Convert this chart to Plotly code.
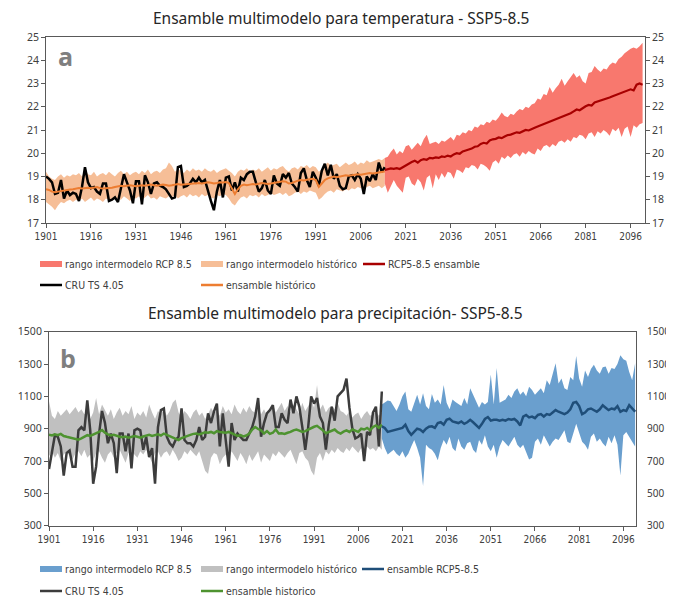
import plotly.graph_objects as go

# ---------------- DATA ----------------
hist_years = list(range(1901, 2015))
fut_years = list(range(2014, 2101))

# Panel a: temperature (°C)
cru_temp = [
    19.0, 18.9, 18.75, 18.25, 18.3, 18.85, 18.05, 18.4, 18.2, 18.3,
    18.25, 17.95, 18.55, 19.4, 18.75, 18.5, 18.55, 18.35, 18.25, 18.7,
    18.7, 17.95, 18.0, 18.1, 17.9, 18.55, 19.1, 18.75, 18.4, 17.85,
    18.8, 18.8, 17.8, 19.05, 18.75, 18.25, 18.7, 18.75, 18.6, 18.55,
    18.45, 18.25, 18.05, 18.1, 19.4, 19.45, 18.55, 18.6, 18.7, 18.9,
    18.75, 18.95, 18.75, 18.85, 18.35, 17.95, 17.55, 18.35, 18.85, 18.1,
    18.95, 19.0, 18.4, 18.75, 18.35, 18.95, 18.85, 19.1, 19.2, 19.2,
    18.75, 18.35, 18.5, 18.85, 18.4, 18.25, 19.05, 18.7, 18.6, 19.1,
    18.95, 19.15, 18.7, 18.55, 18.35, 19.15, 19.35, 18.85, 18.55, 19.2,
    18.95, 18.6, 19.25, 19.55, 19.05, 19.5, 18.9, 19.1, 18.6, 18.45,
    18.5, 19.0, 19.05, 18.85, 19.1, 18.9, 18.25, 19.0, 18.8, 19.1,
    18.85, 19.6, 19.2, 19.4,
]
hist_ens_temp = [
    18.45, 18.42, 18.35, 18.32, 18.35, 18.38, 18.4, 18.42, 18.44, 18.45,
    18.47, 18.5, 18.48, 18.5, 18.52, 18.5, 18.52, 18.55, 18.5, 18.48,
    18.5, 18.5, 18.52, 18.55, 18.58, 18.6, 18.58, 18.6, 18.62, 18.6,
    18.58, 18.6, 18.62, 18.6, 18.63, 18.65, 18.62, 18.6, 18.62, 18.65,
    18.63, 18.6, 18.62, 18.65, 18.68, 18.65, 18.66, 18.68, 18.7, 18.68,
    18.7, 18.72, 18.7, 18.72, 18.75, 18.73, 18.7, 18.72, 18.75, 18.74,
    18.76, 18.72, 18.45, 18.25, 18.45, 18.6, 18.65, 18.62, 18.65, 18.68,
    18.66, 18.7, 18.72, 18.7, 18.68, 18.7, 18.73, 18.75, 18.77, 18.8,
    18.78, 18.7, 18.72, 18.78, 18.82, 18.85, 18.83, 18.86, 18.88, 18.9,
    18.85, 18.55, 18.7, 18.85, 18.92, 18.95, 19.0, 18.97, 19.0, 19.02,
    19.05, 19.03, 19.06, 19.08, 19.1, 19.08, 19.1, 19.12, 19.15, 19.13,
    19.15, 19.18, 19.2, 19.22,
]
hist_hi_temp = [
    19.2, 19.0, 18.9, 18.85, 19.0, 19.1, 18.95, 19.05, 19.0, 19.1,
    19.05, 19.15, 19.0, 19.3, 19.1, 19.05, 19.2, 19.0, 19.1, 19.15,
    19.05, 19.2, 19.1, 19.0, 19.15, 19.25, 19.1, 19.2, 19.05, 19.15,
    19.2, 19.1, 19.25, 19.15, 19.3, 19.1, 19.2, 19.25, 19.15, 19.3,
    19.35, 19.6, 19.45, 19.2, 19.3, 19.25, 19.15, 19.3, 19.2, 19.35,
    19.25, 19.3, 19.2, 19.35, 19.25, 19.2, 19.3, 19.15, 19.25, 19.3,
    19.35, 19.25, 19.15, 19.0, 19.2, 19.3, 19.25, 19.35, 19.2, 19.3,
    19.25, 19.35, 19.2, 19.3, 19.4, 19.25, 19.35, 19.3, 19.4, 19.45,
    19.3, 19.2, 19.35, 19.4, 19.3, 19.45, 19.4, 19.5, 19.35, 19.45,
    19.4, 19.2, 19.3, 19.5, 19.6, 19.45, 19.5, 19.55, 19.4, 19.5,
    19.6, 19.5, 19.55, 19.65, 19.5, 19.6, 19.55, 19.7, 19.6, 19.65,
    19.7, 19.75, 19.7, 19.8,
]
hist_lo_temp = [
    17.9, 17.8, 17.7, 17.55, 17.75, 17.9, 17.85, 17.95, 18.0, 17.9,
    18.0, 17.95, 18.05, 17.9, 18.0, 18.1, 17.95, 18.05, 18.0, 17.9,
    18.05, 18.0, 17.95, 18.1, 18.05, 18.0, 18.15, 18.05, 17.95, 18.1,
    18.05, 18.15, 18.0, 18.1, 18.2, 18.05, 18.1, 18.0, 18.15, 18.1,
    18.05, 18.15, 18.1, 18.2, 18.05, 18.15, 18.2, 18.1, 18.25, 18.15,
    18.2, 18.1, 18.25, 18.15, 18.2, 18.1, 18.05, 18.2, 18.15, 18.25,
    18.2, 18.05, 17.85, 17.75, 17.95, 18.1, 18.15, 18.05, 18.2, 18.15,
    18.2, 18.1, 18.25, 18.15, 18.2, 18.3, 18.2, 18.25, 18.3, 18.2,
    18.3, 18.15, 18.2, 18.3, 18.35, 18.25, 18.35, 18.3, 18.4, 18.35,
    18.3, 18.0, 18.1, 18.25, 18.35, 18.4, 18.3, 18.45, 18.4, 18.35,
    18.45, 18.4, 18.5, 18.45, 18.55, 18.5, 18.45, 18.55, 18.6, 18.5,
    18.55, 18.6, 18.5, 18.6,
]
rcp_ens_temp = [
    19.28,
    19.3, 19.35, 19.33, 19.36, 19.32, 19.4, 19.5, 19.55, 19.62, 19.68,
    19.6, 19.7, 19.75, 19.72, 19.8, 19.78, 19.82, 19.8, 19.86, 19.84,
    19.9, 19.86, 19.95, 20.0, 19.98, 20.08, 20.12, 20.15, 20.2, 20.28,
    20.3, 20.4, 20.45, 20.42, 20.55, 20.6, 20.62, 20.68, 20.65, 20.72,
    20.78, 20.8, 20.85, 20.9, 20.88, 20.95, 21.0, 20.98, 21.05, 21.1,
    21.15, 21.2, 21.28, 21.32, 21.38, 21.42, 21.45, 21.52, 21.58, 21.62,
    21.65, 21.72, 21.8, 21.88, 21.85, 21.95, 22.02, 22.08, 22.05, 22.18,
    22.22, 22.25, 22.3, 22.35, 22.4, 22.45, 22.5, 22.58, 22.62, 22.68,
    22.7, 22.75, 22.7, 22.95, 23.0, 22.95,
]
rcp_hi_temp = [
    19.8,
    19.85, 20.05, 20.2, 19.95, 20.1, 20.0, 20.3, 20.35, 20.15, 20.3,
    20.45, 20.3, 20.6, 20.8, 20.4, 20.45, 20.5, 20.4, 20.55, 20.5,
    20.62, 20.7, 20.55, 20.8, 20.75, 20.9, 20.85, 21.0, 20.95, 21.15,
    21.1, 21.25, 21.2, 21.35, 21.3, 21.45, 21.4, 21.55, 21.75, 21.6,
    21.55, 21.7, 21.65, 21.8, 21.9, 21.85, 22.0, 21.95, 22.1, 22.15,
    22.35, 22.3, 22.55, 22.5, 22.85, 22.6, 22.8, 22.95, 23.2, 22.9,
    23.1, 23.3, 23.45, 23.25, 23.35, 23.1, 23.0, 23.45, 23.5, 23.75,
    23.6, 23.5, 23.65, 23.6, 23.8, 23.9, 23.85, 24.05, 24.15, 24.3,
    24.4, 24.5, 24.55, 24.5, 24.6, 24.75,
]
rcp_lo_temp = [
    18.7,
    18.3, 18.6, 18.85, 18.6, 18.45, 18.3, 18.95, 19.0, 18.7, 18.6,
    18.9, 18.75, 18.4, 18.95, 19.05, 18.5, 19.1, 18.85, 19.15, 18.95,
    19.2, 19.15, 18.9, 19.3, 19.25, 19.15, 19.4, 19.35, 19.5, 19.45,
    19.3, 19.55, 19.5, 19.4, 19.25, 19.6, 19.7, 19.55, 19.85, 19.75,
    19.9, 19.8, 19.95, 20.0, 19.85, 20.05, 19.95, 20.1, 20.0, 19.95,
    20.2, 20.1, 20.3, 20.35, 20.25, 20.4, 20.3, 20.5, 20.55, 20.45,
    20.6, 20.5, 20.7, 20.65, 20.8, 20.75, 20.6, 20.85, 20.9, 20.7,
    20.95, 20.85, 21.0, 20.9, 20.75, 21.05, 20.95, 21.1, 20.7, 21.05,
    21.15, 20.7, 21.2, 21.1, 21.25, 21.3,
]

# Panel b: precipitation (mm)
cru_prec = [
    650, 760, 860, 850, 790, 610, 750, 765, 665, 665,
    890, 910, 890, 1075, 890, 560, 665, 870, 1010, 935,
    810, 870, 810, 625, 870, 870, 760, 870, 655, 890,
    900, 890, 770, 850, 725, 780, 560, 910, 1015, 1025,
    850, 810, 790, 830, 850, 1025, 830, 810, 810, 790,
    830, 910, 830, 850, 995, 935, 1005, 1055, 790, 995,
    830, 665, 935, 830, 870, 850, 830, 830, 870, 910,
    975, 1090, 850, 935, 995, 1015, 1045, 910, 910, 995,
    955, 935, 1080, 995, 1100, 1035, 910, 770, 910, 1100,
    1055, 1090, 975, 935, 770, 925, 1036, 950, 1100, 1118,
    1140, 1210, 1030, 900, 840, 850, 870, 700, 880, 860,
    1000, 1036, 790, 1130,
]
hist_ens_prec = [
    862, 858, 865, 860, 868, 855, 850, 845, 840, 835,
    832, 840, 850, 860, 855, 862, 870, 880, 892, 875,
    865, 858, 862, 855, 850, 848, 852, 845, 850, 855,
    850, 845, 852, 858, 862, 855, 860, 865, 858, 870,
    862, 855, 845, 838, 830, 842, 850, 858, 862, 868,
    870, 865, 872, 878, 875, 880, 872, 885, 880, 878,
    875, 880, 870, 862, 855, 860, 852, 858, 870, 895,
    910, 898, 890, 870, 885, 868, 875, 895, 870, 872,
    868, 875, 880, 890, 895, 888, 880, 885, 895, 905,
    912, 918, 905, 890, 872, 880, 885, 895, 878, 870,
    882, 890, 880, 895, 888, 880, 900, 895, 905, 890,
    910, 920, 905, 925,
]
hist_hi_prec = [
    1070, 980, 960, 1010, 980, 1000, 1020, 990, 1010, 1035,
    1000, 1020, 990, 1010, 960, 1000, 1090, 990, 1050, 1010,
    980, 1020, 960, 1000, 1030, 980, 1010, 990, 1040, 960,
    1000, 980, 1010, 970, 1050, 1000, 960, 1010, 990, 1020,
    980, 1010, 1060, 1080, 1000, 970, 1010, 990, 960, 1000,
    1020, 980, 1000, 960, 990, 1030, 1000, 1010, 980, 1040,
    1000, 1020, 990, 1050, 1010, 990, 1030, 1000, 1040, 1010,
    1000, 1040, 990, 1020, 980, 1010, 1050, 1000, 1030, 1060,
    1010, 1040, 1000, 1050, 1020, 990, 1060, 1010, 1040, 1080,
    1030, 1170, 1020, 1050, 1000, 1030, 1040, 1020, 1060, 1010,
    1000, 980, 1010, 970, 990, 1000, 960, 990, 1010, 980,
    990, 1010, 980, 1000,
]
hist_lo_prec = [
    730, 760, 720, 750, 700, 740, 760, 730, 710, 750,
    760, 730, 770, 720, 740, 700, 750, 760, 720, 690,
    740, 760, 720, 750, 770, 730, 690, 750, 760, 740,
    720, 760, 740, 770, 730, 690, 750, 760, 720, 750,
    760, 730, 770, 740, 700, 720, 760, 740, 770, 750,
    730, 760, 700, 640, 620, 720, 750, 740, 680, 720,
    740, 710, 760, 730, 700, 750, 720, 680, 740, 700,
    730, 760, 690, 740, 720, 700, 750, 730, 760, 740,
    720, 750, 770, 730, 680, 750, 760, 720, 700, 640,
    610, 720, 750, 700, 760, 740, 770, 750, 780, 760,
    750, 780, 760, 790, 770, 750, 780, 760, 790, 770,
    780, 760, 790, 770,
]
rcp_ens_prec = [
    915,
    905, 880, 885, 890, 895, 900, 905, 925, 885, 862,
    880, 900, 895, 880, 900, 912, 915, 905, 935, 940,
    925, 955, 962, 945, 940, 935, 945, 930, 940, 955,
    940, 925, 905, 930, 960, 972, 950, 955, 955, 950,
    955, 950, 960, 955, 960, 945, 920, 975, 985, 970,
    975, 965, 985, 990, 975, 990, 985, 1000, 1015, 1005,
    995, 990, 1000, 1020, 1060, 1065, 1040, 990, 1000, 1020,
    1025, 1015, 1005, 1020, 1045, 1030, 1015, 1025, 1020, 1040,
    1005, 1015, 1010, 1045, 1025, 1005,
]
rcp_hi_prec = [
    1050,
    1060, 1075, 1070, 1040, 1010, 1050, 1100, 1130, 1020, 1005,
    1060, 1110, 1050, 1120, 1040, 1020, 1115, 1060, 1080, 1050,
    1170, 1060, 1020, 1080, 1065, 1050, 1040, 1090, 1050, 1150,
    1110, 1060, 1030, 1065, 1050, 1065, 1235, 1050, 1275, 1060,
    1070, 1080, 1110, 1090, 1130, 1150, 1110, 1130, 1100, 1160,
    1140, 1110, 1130, 1150, 1120, 1200, 1170, 1230, 1305, 1180,
    1210, 1150, 1140, 1220, 1200, 1350, 1210, 1160, 1260, 1220,
    1270, 1295, 1260, 1240, 1280, 1285, 1240, 1275, 1270, 1300,
    1355, 1330, 1320, 1250, 1200, 1305,
]
rcp_lo_prec = [
    840,
    780, 740, 755, 770, 745, 730, 760, 720, 745, 790,
    830, 780, 720, 545, 800, 780, 770, 745, 705, 780,
    830, 800, 850, 780, 760, 840, 790, 770, 810, 820,
    770, 750, 830, 800, 860, 790, 760, 800, 720, 790,
    830, 810, 790, 820, 850, 800, 780, 800, 760, 710,
    720, 820, 840, 800, 860, 830, 790, 820, 840, 830,
    860, 890, 820, 810, 870, 930, 880, 820, 800, 770,
    850, 870, 820, 840, 810, 790, 850, 810, 860, 800,
    610, 860, 880, 850, 820, 790,
]

x_ticks = list(range(1901, 2100, 15))

# ---------------- STYLE ----------------
# The page places the figure 8 px from the top-left corner of the window,
# so the figure is 8 px smaller each way and positions are given in window pixels.
OFF = 8
W, H = 674 - OFF, 599 - OFF
def px(x):
    return (x - OFF) / W
def py(y):
    return 1 - (y - OFF) / H

C_RCP_T = "#F8786E"
C_HIST_T = "#F6BE97"
C_ENS_T = "#A80000"
C_CRU_T = "#000000"
C_HENS_T = "#ED7D31"
C_RCP_P = "#6A9FCE"
C_HIST_P = "#C0C0C0"
C_ENS_P = "#1F4E79"
C_CRU_P = "#3C3C3C"
C_HENS_P = "#4E9330"

AX = "#595959"
TXT = "#404040"
TICKFONT_X = dict(family="Liberation Sans Narrow, Arial Narrow, DejaVu Sans Condensed", size=10, color=TXT)
TICKFONT_Y = dict(family="Noto Sans, Open Sans", size=10.5, color=TXT)
TICKFONT_YR = dict(family="Noto Sans, Open Sans", size=10, color=TXT)
LEGFONT = dict(family="Liberation Sans Narrow, Arial Narrow, DejaVu Sans Condensed", size=10.5, color=TXT)

fig = go.Figure()

def band(xs, lo, hi, color, xa, ya):
    fig.add_trace(go.Scatter(
        x=list(xs) + list(xs)[::-1], y=list(hi) + list(lo)[::-1],
        fill="toself", fillcolor=color, line=dict(width=0, color=color),
        mode="lines", hoverinfo="skip", showlegend=False, xaxis=xa, yaxis=ya))

def line(xs, ys, color, width, xa, ya):
    fig.add_trace(go.Scatter(
        x=list(xs), y=list(ys), mode="lines", line=dict(color=color, width=width),
        showlegend=False, xaxis=xa, yaxis=ya))

# Panel a
band(hist_years, hist_lo_temp, hist_hi_temp, C_HIST_T, "x", "y")
band(fut_years, rcp_lo_temp, rcp_hi_temp, C_RCP_T, "x", "y")
line(hist_years, cru_temp, C_CRU_T, 2.5, "x", "y")
line(hist_years, hist_ens_temp, C_HENS_T, 2.0, "x", "y")
line(fut_years, rcp_ens_temp, C_ENS_T, 2.2, "x", "y")
# Panel b
band(hist_years, hist_lo_prec, hist_hi_prec, C_HIST_P, "x2", "y3")
band(fut_years, rcp_lo_prec, rcp_hi_prec, C_RCP_P, "x2", "y3")
line(hist_years, cru_prec, C_CRU_P, 2.5, "x2", "y3")
line(hist_years, hist_ens_prec, C_HENS_P, 2.5, "x2", "y3")
line(fut_years, rcp_ens_prec, C_ENS_P, 2.5, "x2", "y3")
# invisible anchors for right-hand axes
fig.add_trace(go.Scatter(x=[1901], y=[17], mode="markers", marker=dict(opacity=0), showlegend=False, hoverinfo="skip", xaxis="x", yaxis="y2"))
fig.add_trace(go.Scatter(x=[1901], y=[300], mode="markers", marker=dict(opacity=0), showlegend=False, hoverinfo="skip", xaxis="x2", yaxis="y4"))

xcommon = dict(tickmode="array", tickvals=x_ticks, ticktext=[str(v) for v in x_ticks],
               showgrid=False, zeroline=False, showline=True, linecolor=AX, linewidth=1,
               mirror=True, ticks="outside", ticklen=4, tickcolor=AX, tickfont=TICKFONT_X,
               automargin=False)
ycommon = dict(showgrid=False, zeroline=False, showline=True, linecolor=AX, linewidth=1,
               automargin=False)

fig.update_layout(
    width=W, height=H, margin=dict(l=0, r=0, t=0, b=0, autoexpand=False),
    paper_bgcolor="white", plot_bgcolor="white", showlegend=False,
    xaxis=dict(domain=[px(46), px(645)], anchor="y", range=[1901, 2100.8], **xcommon),
    yaxis=dict(domain=[py(223), py(37)], anchor="x", range=[17, 25], dtick=1,
               ticks="outside", ticklen=4, tickcolor=AX, tickfont=TICKFONT_Y, **ycommon),
    yaxis2=dict(overlaying="y", side="right", anchor="x", range=[17, 25], dtick=1,
                ticks="outside", ticklen=4, tickcolor=AX, tickfont=TICKFONT_Y, **ycommon),
    xaxis2=dict(domain=[px(49), px(636)], anchor="y3", range=[1901, 2100.3], **xcommon),
    yaxis3=dict(domain=[py(525.7), py(331.7)], anchor="x2", range=[300, 1500], dtick=200, tick0=300,
                ticks="outside", ticklen=4, tickcolor=AX, tickfont=TICKFONT_Y, **ycommon),
    yaxis4=dict(overlaying="y3", side="right", anchor="x2", range=[300, 1500], dtick=200, tick0=300,
                ticks="outside", ticklen=8, tickcolor="rgba(0,0,0,0)", tickfont=TICKFONT_YR, **ycommon),
)

ann = []
TITLEFONT = dict(family="Noto Sans, Open Sans", size=15.5, color="#262626")
ann.append(dict(text="Ensamble multimodelo para temperatura - SSP5-8.5", x=px(341), y=py(18),
                xref="paper", yref="paper", showarrow=False, font=TITLEFONT, xanchor="center", yanchor="middle"))
ann.append(dict(text="Ensamble multimodelo para precipitación- SSP5-8.5", x=px(335), y=py(313),
                xref="paper", yref="paper", showarrow=False, font=TITLEFONT, xanchor="center", yanchor="middle"))
LETTERFONT = dict(family="Open Sans, Noto Sans", size=25, color="#7F7F7F")
ann.append(dict(text="<b>a</b>", x=px(66), y=py(56), xref="paper", yref="paper", showarrow=False,
                font=LETTERFONT, xanchor="center", yanchor="middle"))
ann.append(dict(text="<b>b</b>", x=px(68), y=py(358), xref="paper", yref="paper", showarrow=False,
                font=LETTERFONT, xanchor="center", yanchor="middle"))

shapes = []
def leg_entry(x0, y, kind, color, label):
    if kind == "box":
        shapes.append(dict(type="rect", xref="paper", yref="paper", x0=px(x0), x1=px(x0 + 22),
                           y0=py(y + 3), y1=py(y - 3), fillcolor=color, line=dict(width=0)))
    else:
        shapes.append(dict(type="line", xref="paper", yref="paper", x0=px(x0), x1=px(x0 + 22),
                           y0=py(y), y1=py(y), line=dict(color=color, width=2.5)))
    ann.append(dict(text=label, x=px(x0 + 23), y=py(y), xref="paper", yref="paper", showarrow=False,
                    font=LEGFONT, xanchor="left", yanchor="middle"))

# legend panel a
leg_entry(40, 264, "box", C_RCP_T, "rango intermodelo RCP 8.5")
leg_entry(201, 264, "box", C_HIST_T, "rango intermodelo histórico")
leg_entry(363, 264, "line", C_ENS_T, "RCP5-8.5 ensamble")
leg_entry(40, 285, "line", C_CRU_T, "CRU TS 4.05")
leg_entry(201, 285, "line", C_HENS_T, "ensamble histórico")
# legend panel b
leg_entry(40, 569, "box", C_RCP_P, "rango intermodelo RCP 8.5")
leg_entry(201, 569, "box", C_HIST_P, "rango intermodelo histórico")
leg_entry(362, 569, "line", C_ENS_P, "ensamble RCP5-8.5")
leg_entry(40, 591, "line", C_CRU_P, "CRU TS 4.05")
leg_entry(201, 591, "line", C_HENS_P, "ensamble historico")

fig.update_layout(annotations=ann, shapes=shapes)
fig.write_html("out.html")
